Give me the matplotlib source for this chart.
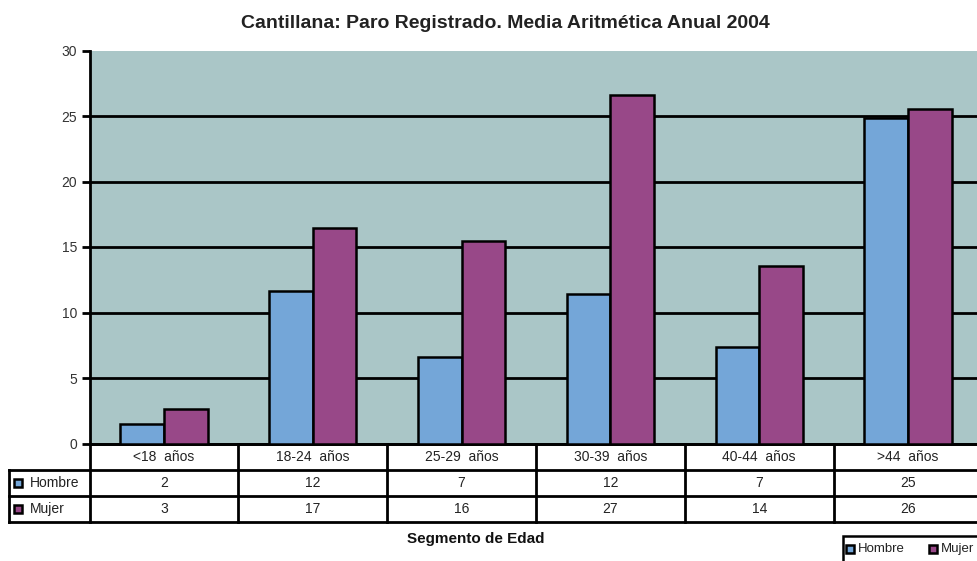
import numpy as np
import matplotlib
matplotlib.use("Agg")
import matplotlib.pyplot as plt
import matplotlib.transforms as mtransforms
from matplotlib.patches import Rectangle

plt.rcParams['font.family'] = ['Liberation Sans', 'DejaVu Sans']

# data
categorias = ["<18  años", "18-24  años", "25-29  años", "30-39  años", "40-44  años", ">44  años"]
hombre = [1.47, 11.67, 6.64, 11.4, 7.33, 24.85]
mujer = [2.63, 16.47, 15.44, 26.6, 13.56, 25.56]
hombre_tabla = ["2", "12", "7", "12", "7", "25"]
mujer_tabla = ["3", "17", "16", "27", "14", "26"]
series = ["Hombre", "Mujer"]

COL_H = "#74A6D8"
COL_M = "#984888"
BG = "#AAC6C7"
TXT = "#222222"

W, H = 977, 561
fig = plt.figure(figsize=(W / 100, H / 100), dpi=100)

# axes placement in pixels (left, top, right, bottom)
L, T, R, B = 89.6, 50.5, 982.4, 443.5
ax = fig.add_axes([L / W, 1 - B / H, (R - L) / W, (B - T) / H])
ax.set_facecolor(BG)

x = np.arange(len(categorias))
bw = 0.293
ax.bar(x - bw / 2, hombre, bw, color=COL_H, edgecolor="black", linewidth=1.8, zorder=3)
ax.bar(x + bw / 2, mujer, bw, color=COL_M, edgecolor="black", linewidth=1.8, zorder=3)

ax.set_xlim(-0.5, len(categorias) - 0.5)
ax.set_ylim(0, 30)
yt = np.arange(0, 31, 5)
ax.set_yticks(yt)
ax.set_xticks([])
ax.hlines(yt[1:-1], -0.5, len(categorias) - 0.5, colors="black", linewidth=2, zorder=2)
ax.tick_params(axis="y", direction="out", length=6, width=2, color="black",
               labelsize=10, labelcolor="#333333", pad=3)
for s in ["top", "right"]:
    ax.spines[s].set_visible(False)
ax.spines["left"].set_linewidth(2)
ax.spines["bottom"].set_linewidth(2)

# data table under the axis
trans = mtransforms.blended_transform_factory(ax.transData, ax.transAxes)
def yax(py):
    return (B - py) / (B - T)

rows_px = [443.5, 470, 496, 522]
cat_w = (R - L) / len(categorias)
x_lab = -0.5 - (L - 9) / cat_w
xr = len(categorias) - 0.5
lk = dict(color="black", linewidth=2, transform=trans, clip_on=False)

# horizontal lines
ax.plot([-0.5, xr], [yax(rows_px[0])] * 2, **lk)
for py in rows_px[1:]:
    ax.plot([x_lab, xr], [yax(py)] * 2, **lk)
# vertical lines
for i in range(len(categorias) + 1):
    ax.plot([i - 0.5] * 2, [yax(rows_px[0]), yax(rows_px[-1])], **lk)
ax.plot([x_lab] * 2, [yax(rows_px[1]), yax(rows_px[-1])], **lk)

tk = dict(transform=trans, ha="center", va="center", fontsize=10, color=TXT, clip_on=False)
for i, c in enumerate(categorias):
    ax.text(i, yax((rows_px[0] + rows_px[1]) / 2), c, **tk)
    ax.text(i, yax((rows_px[1] + rows_px[2]) / 2), hombre_tabla[i], **tk)
    ax.text(i, yax((rows_px[2] + rows_px[3]) / 2), mujer_tabla[i], **tk)

for j, (nom, col) in enumerate(zip(series, [COL_H, COL_M])):
    yc = yax((rows_px[j + 1] + rows_px[j + 2]) / 2)
    ax.plot([x_lab + 0.06], [yc], marker="s", markersize=5.5, markerfacecolor=col,
            markeredgecolor="black", markeredgewidth=1.8, transform=trans, clip_on=False)
    ax.text(x_lab + 0.14, yc, nom, transform=trans, ha="left", va="center",
            fontsize=10, color=TXT, clip_on=False)

fig.text(505 / W, 1 - 23 / H, "Cantillana: Paro Registrado. Media Aritmética Anual 2004",
         ha="center", va="center", fontsize=14, fontweight="bold", color=TXT)
fig.text(476 / W, 1 - 539 / H, "Segmento de Edad", ha="center", va="center",
         fontsize=11, fontweight="bold", color="#111111")

# legend box, cut off by the bottom edge like the original
ftr = fig.transFigure
fig.patches.append(Rectangle((843 / W, 1 - 575 / H), (990 - 843) / W, (575 - 536) / H,
                             transform=ftr, facecolor="white", edgecolor="black",
                             linewidth=1.8))
ly = 1 - 549 / H
for nom, col, mx in zip(series, [COL_H, COL_M], [850, 933]):
    fig.lines.append(plt.Line2D([mx / W], [ly], marker="s", markersize=5.5,
                                markerfacecolor=col, markeredgecolor="black",
                                markeredgewidth=1.8, transform=ftr))
    fig.text((mx + 8) / W, ly, nom, ha="left", va="center", fontsize=9.5, color=TXT)

fig.savefig("out.png", dpi=100)
